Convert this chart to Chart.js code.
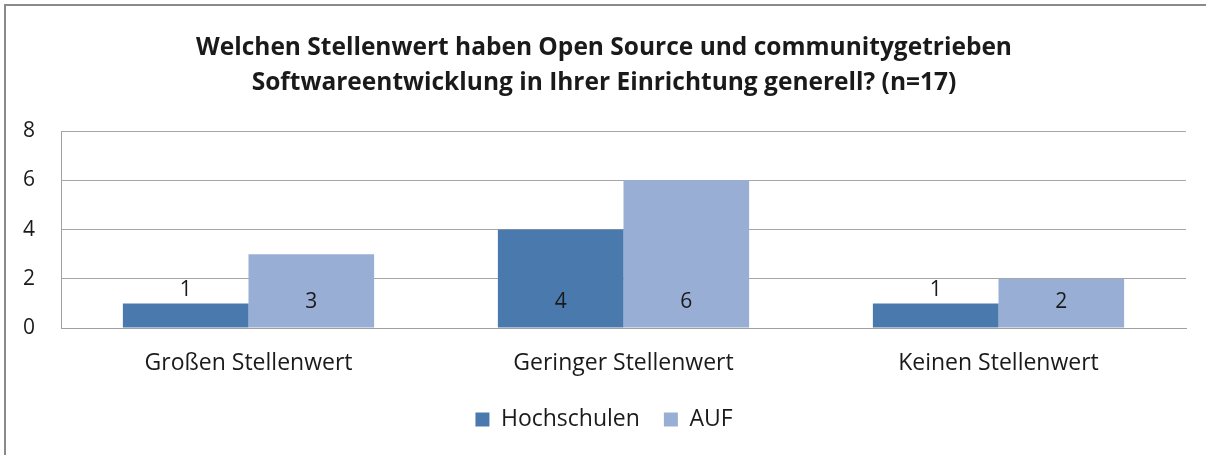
<!DOCTYPE html>
<html>
<head>
<meta charset="utf-8">
<script src="https://cdn.jsdelivr.net/npm/chart.js@4.4.1/dist/chart.umd.min.js"></script>
<style>
  html, body { margin: 0; padding: 0; background: #fff; overflow: hidden; }
  #frame { position: absolute; left: 4px; top: 4px; width: 1220px; height: 470px; border: 2px solid #8a8a8a; box-sizing: border-box; }
  #wrap { position: absolute; left: 0; top: 0; width: 1206px; height: 455px; }
</style>
</head>
<body>
<div id="frame"></div>
<div id="wrap"><canvas id="c" width="1206" height="455"></canvas></div>
<script>
const titleLines = ["Welchen Stellenwert haben Open Source und communitygetrieben", "Softwareentwicklung in Ihrer Einrichtung generell? (n=17)"];
const categories = ["Großen Stellenwert", "Geringer Stellenwert", "Keinen Stellenwert"];
const seriesNames = ["Hochschulen", "AUF"];
const hochschulen = [1, 4, 1];
const auf = [3, 6, 2];
const yTicks = [0, 2, 4, 6, 8];

const FONT = "'Open Sans', Lato, sans-serif";
const TXT = "#1a1a1a";

const valueLabels = {
  id: 'valueLabels',
  afterDatasetsDraw(chart) {
    const ctx = chart.ctx;
    ctx.save();
    ctx.font = "21px " + FONT;
    ctx.fillStyle = TXT;
    ctx.textAlign = 'center';
    ctx.textBaseline = 'middle';
    chart.data.datasets.forEach((ds, i) => {
      const meta = chart.getDatasetMeta(i);
      meta.data.forEach((bar, j) => {
        const h = bar.base - bar.y;
        const y = h >= 40 ? bar.base - 25 : bar.y - 13;
        ctx.fillText(String(ds.data[j]), bar.x, y);
      });
    });
    ctx.restore();
  }
};

new Chart(document.getElementById('c'), {
  type: 'bar',
  data: {
    labels: categories,
    datasets: [
      { label: seriesNames[0], data: hochschulen, backgroundColor: '#4A7AAD', borderWidth: 0 },
      { label: seriesNames[1], data: auf, backgroundColor: '#98AED4', borderWidth: 0 }
    ]
  },
  options: {
    responsive: false,
    animation: false,
    devicePixelRatio: 1,
    layout: { padding: { left: 22, right: 20, top: 0, bottom: 14 } },
    datasets: { bar: { categoryPercentage: 0.67, barPercentage: 1.0 } },
    plugins: {
      title: {
        display: true,
        text: titleLines,
        color: TXT,
        font: { family: FONT, size: 24.5, weight: 'bold', lineHeight: 1.43 },
        padding: { top: 30, bottom: 31 }
      },
      legend: {
        display: true,
        position: 'bottom',
        labels: {
          color: TXT,
          font: { family: FONT, size: 23 },
          boxWidth: 14,
          boxHeight: 14,
          padding: 24
        }
      },
      tooltip: { enabled: false }
    },
    scales: {
      x: {
        grid: { display: false },
        border: { display: true, color: '#a0a0a0', width: 1 },
        ticks: { color: TXT, font: { family: FONT, size: 23 }, padding: 14 },
        afterFit(scale) { scale.height = 56; }
      },
      y: {
        min: 0, max: 8,
        afterBuildTicks(scale) { scale.ticks = yTicks.map(v => ({ value: v })); },
        grid: { color: '#a6a6a6', drawTicks: false },
        border: { display: true, color: '#a0a0a0', width: 1 },
        ticks: { color: TXT, font: { family: FONT, size: 21 }, padding: 26 },
        afterFit(scale) { scale.width = 39; }
      }
    }
  },
  plugins: [valueLabels]
});
</script>
</body>
</html>
